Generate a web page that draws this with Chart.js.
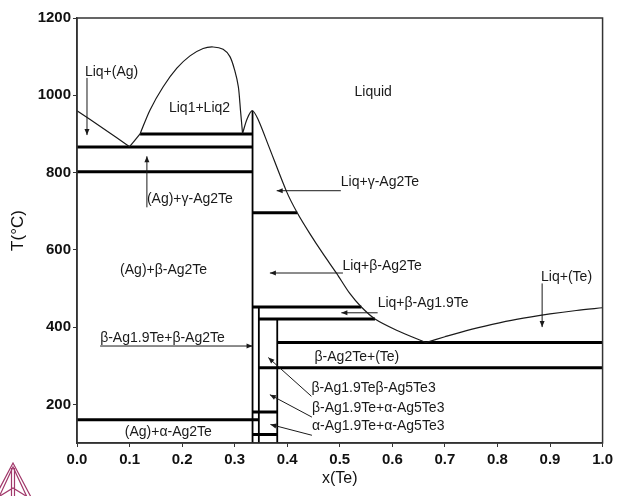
<!DOCTYPE html>
<html>
<head>
<meta charset="utf-8">
<script src="https://cdn.jsdelivr.net/npm/chart.js@4.4.1/dist/chart.umd.min.js"></script>
<style>
  html, body { margin: 0; padding: 0; background: #fff; }
  #wrap { width: 617px; height: 496px; }
</style>
</head>
<body>
<div id="wrap"><canvas id="phaseChart" width="617" height="496"></canvas></div>
<script>
// Ag-Te phase diagram, x(Te) vs T(°C)
const xTicks = [0, 0.1, 0.2, 0.3, 0.4, 0.5, 0.6, 0.7, 0.8, 0.9, 1.0];
const tTicks = [200, 400, 600, 800, 1000, 1200];

// boundary curves as [x(Te), T] pairs
const liquidusAg = [[0, 960], [0.05, 914], [0.1, 867]];
const monotecticLeg = [[0.1, 867], [0.12, 900]];
const miscibilityGap = [[0.12, 900], [0.139, 962], [0.164, 1022], [0.19, 1070], [0.215, 1102], [0.24, 1121],
  [0.259, 1125], [0.278, 1119], [0.291, 1100], [0.300, 1065], [0.307, 1022], [0.311, 962], [0.315, 901]];
const liquidusAg2Te = [[0.315, 901], [0.324, 940], [0.334, 960], [0.345, 936], [0.364, 871], [0.399, 750],
  [0.419, 696], [0.443, 642], [0.468, 590], [0.494, 539], [0.519, 487], [0.541, 452], [0.567, 421],
  [0.608, 392], [0.664, 360]];
const liquidusTe = [[0.664, 360], [0.70, 375], [0.741, 391], [0.79, 407], [0.836, 420], [0.90, 434],
  [0.95, 443], [1.0, 450]];

// invariant lines: [x from, x to, T]
const invariants = [
  [0, 0.334, 866], [0.12, 0.334, 900], [0, 0.334, 802], [0.334, 0.419, 696],
  [0.334, 0.541, 452], [0.346, 0.567, 421], [0.381, 1.0, 360], [0.346, 1.0, 295],
  [0.334, 0.381, 180], [0, 0.346, 160], [0.334, 0.381, 122]
];
// compound lines: [x, T from, T to]
const compounds = [[0.334, 100, 960], [0.346, 100, 452], [0.381, 100, 421]];

// region names, left edge in data units
const regionNames = [
  ['Liq+(Ag)', 0.015, 1060], ['Liq1+Liq2', 0.175, 967], ['Liquid', 0.528, 1008],
  ['(Ag)+γ-Ag2Te', 0.133, 731], ['Liq+γ-Ag2Te', 0.502, 775], ['(Ag)+β-Ag2Te', 0.082, 547],
  ['Liq+β-Ag2Te', 0.505, 558], ['Liq+β-Ag1.9Te', 0.572, 461], ['Liq+(Te)', 0.883, 530],
  ['β-Ag1.9Te+β-Ag2Te', 0.044, 371], ['β-Ag2Te+(Te)', 0.452, 321],
  ['β-Ag1.9Teβ-Ag5Te3', 0.446, 243], ['β-Ag1.9Te+α-Ag5Te3', 0.447, 191],
  ['α-Ag1.9Te+α-Ag5Te3', 0.447, 144], ['(Ag)+α-Ag2Te', 0.091, 128]
];
// pointer arrows: [x tail, T tail, x head, T head]
const pointers = [
  [0.019, 1045, 0.019, 897], [0.133, 710, 0.133, 842], [0.502, 753, 0.380, 753],
  [0.506, 540, 0.367, 540], [0.572, 437, 0.503, 437], [0.885, 513, 0.885, 400],
  [0.044, 351, 0.334, 351], [0.446, 221, 0.364, 321], [0.447, 167, 0.367, 225],
  [0.447, 120, 0.368, 148]
];

const FONT = '"Liberation Sans", Arial, sans-serif';
const pts = arr => arr.map(p => ({ x: p[0], y: p[1] }));

const curve = (data) => ({
  data: pts(data), showLine: true, pointRadius: 0, borderColor: '#1a1a1a',
  borderWidth: 1.2, tension: 0.3, fill: false
});

const datasets = [
  curve(liquidusAg), curve(monotecticLeg), curve(miscibilityGap), curve(liquidusAg2Te), curve(liquidusTe)
];
invariants.forEach(l => datasets.push({
  data: [{ x: l[0], y: l[2] }, { x: l[1], y: l[2] }], showLine: true, pointRadius: 0,
  borderColor: '#000', borderWidth: 3, borderCapStyle: 'butt'
}));
compounds.forEach(l => datasets.push({
  data: [{ x: l[0], y: l[1] }, { x: l[0], y: l[2] }], showLine: true, pointRadius: 0,
  borderColor: '#000', borderWidth: 1.8
}));

// frame, labels, arrows and the small logo
const annotate = {
  id: 'annotate',
  afterDatasetsDraw(chart) {
    const { ctx, chartArea: a, scales: { x, y } } = chart;
    ctx.save();
    ctx.strokeStyle = '#333';
    ctx.lineWidth = 1.5;
    ctx.strokeRect(a.left, a.top, a.right - a.left, a.bottom - a.top);

    ctx.fillStyle = '#1a1a1a';
    ctx.font = '14px ' + FONT;
    ctx.textBaseline = 'middle';
    ctx.textAlign = 'left';
    regionNames.forEach(r => ctx.fillText(r[0], x.getPixelForValue(r[1]), y.getPixelForValue(r[2])));

    ctx.strokeStyle = '#1a1a1a';
    ctx.lineWidth = 1;
    pointers.forEach(p => {
      const x1 = x.getPixelForValue(p[0]), y1 = y.getPixelForValue(p[1]);
      const x2 = x.getPixelForValue(p[2]), y2 = y.getPixelForValue(p[3]);
      const ang = Math.atan2(y2 - y1, x2 - x1);
      ctx.beginPath();
      ctx.moveTo(x1, y1);
      ctx.lineTo(x2, y2);
      ctx.stroke();
      ctx.beginPath();
      ctx.moveTo(x2, y2);
      ctx.lineTo(x2 - 6 * Math.cos(ang) + 2.5 * Math.sin(ang), y2 - 6 * Math.sin(ang) - 2.5 * Math.cos(ang));
      ctx.lineTo(x2 - 6 * Math.cos(ang) - 2.5 * Math.sin(ang), y2 - 6 * Math.sin(ang) + 2.5 * Math.cos(ang));
      ctx.closePath();
      ctx.fill();
    });
    ctx.restore();

    // logo in the lower left corner
    ctx.save();
    ctx.strokeStyle = '#a1386a';
    ctx.lineWidth = 1.2;
    const tri = (ax, ay, w, h) => {
      ctx.beginPath();
      ctx.moveTo(ax - w, ay + h);
      ctx.lineTo(ax, ay);
      ctx.lineTo(ax + w, ay + h);
      ctx.stroke();
    };
    tri(13, 463, 19, 36);
    tri(13, 467, 14, 30);
    ctx.beginPath();
    ctx.moveTo(11.5, 468); ctx.lineTo(11.5, 496);
    ctx.moveTo(14.5, 468); ctx.lineTo(14.5, 496);
    ctx.moveTo(0, 496); ctx.lineTo(13, 488); ctx.lineTo(26, 496);
    ctx.stroke();
    ctx.restore();
  }
};

new Chart(document.getElementById('phaseChart'), {
  type: 'scatter',
  data: { datasets },
  plugins: [annotate],
  options: {
    responsive: false,
    animation: false,
    layout: { padding: { top: 18, right: 14, left: 0, bottom: 0 } },
    plugins: { legend: { display: false }, tooltip: { enabled: false } },
    scales: {
      x: {
        type: 'linear', min: 0, max: 1,
        afterBuildTicks: axis => { axis.ticks = xTicks.map(v => ({ value: v })); },
        afterFit: axis => { axis.height = 53; },
        ticks: {
          callback: v => v.toFixed(1), color: '#111', padding: 4,
          font: { family: FONT, size: 15, weight: 'bold' }, maxRotation: 0
        },
        grid: { drawOnChartArea: false, tickLength: 4, color: '#333' },
        border: { color: '#333', width: 1.5 },
        title: { display: true, text: 'x(Te)', color: '#111', font: { family: FONT, size: 16 }, padding: { top: 0, bottom: 8 } }
      },
      y: {
        type: 'linear', min: 100, max: 1200,
        afterBuildTicks: axis => { axis.ticks = tTicks.map(v => ({ value: v })); },
        afterFit: axis => { axis.width = 77; },
        ticks: { callback: v => String(v), color: '#111', padding: 2, font: { family: FONT, size: 15, weight: 'bold' } },
        grid: { drawOnChartArea: false, tickLength: 4, color: '#333' },
        border: { color: '#333', width: 1.5 },
        title: { display: true, text: 'T(°C)', color: '#111', font: { family: FONT, size: 17 }, padding: { top: 8, bottom: 0 } }
      }
    }
  }
});
</script>
</body>
</html>
